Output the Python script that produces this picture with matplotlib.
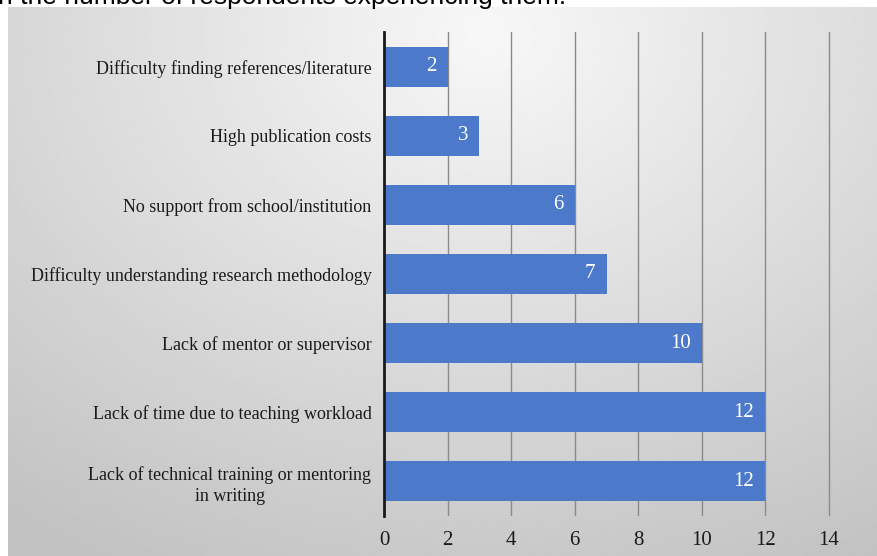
import numpy as np
import matplotlib
matplotlib.use('Agg')
import matplotlib.pyplot as plt

categories = [
    'Difficulty finding references/literature',
    'High publication costs',
    'No support from school/institution',
    'Difficulty understanding research methodology',
    'Lack of mentor or supervisor',
    'Lack of time due to teaching workload',
    'Lack of technical training or mentoring\nin writing',
]
respondents = [2, 3, 6, 7, 10, 12, 12]
x_ticks = [0, 2, 4, 6, 8, 10, 12, 14]
title_tail = 'n the number of respondents experiencing them.'

W, H = 877, 556
fig = plt.figure(figsize=(W / 100, H / 100), dpi=100)
fig.patch.set_facecolor('white')

# gray slide panel with soft radial gradient
bg = fig.add_axes([8 / W, 0, 1 - 8 / W, 1 - 7 / H])
yy, xx = np.mgrid[0:1:300j, 0:1:500j]
r = np.sqrt(((xx - 0.55) / 0.9) ** 2 + ((yy - 0.05) / 1.1) ** 2)
shade = np.clip(0.97 - 0.21 * r, 0.76, 0.97)
bg.imshow(shade, cmap='gray', vmin=0, vmax=1, aspect='auto',
          extent=(0, 1, 1, 0), interpolation='bilinear')
bg.axis('off')

# slide title, cut off at the top edge as in the screenshot
fig.text(-2 / W, 1 - 4 / H, title_tail, fontsize=19, family='Liberation Sans',
         color='black', ha='left', va='baseline')

xmax = 14.05
ax = fig.add_axes([384 / W, 1 - 516 / H, (829 - 384) / W * xmax / 14, (516 - 32) / H])
ax.patch.set_alpha(0)

y = np.arange(len(categories))
ax.barh(y, respondents, height=0.58, color='#4c79c9', zorder=3)

for yi, v in zip(y, respondents):
    ax.annotate(str(v), xy=(v, yi), xytext=(-8, 0), textcoords='offset points',
                ha='right', va='center', color='white', fontsize=15,
                family='Liberation Serif', zorder=4)

ax.set_xlim(0, xmax)
ax.set_ylim(len(categories) - 0.5, -0.5)
ax.set_yticks(y)
ax.set_yticklabels(categories, family='Liberation Serif', fontsize=13,
                   color='#1a1a1a', multialignment='center', linespacing=1.3)
ax.set_xticks(x_ticks)
ax.set_xticklabels([str(t) for t in x_ticks], family='Liberation Serif',
                   fontsize=15, color='#1a1a1a')
ax.tick_params(axis='both', length=0)
ax.tick_params(axis='y', pad=9)
ax.tick_params(axis='x', pad=11)

ax.grid(axis='x', color='#8a8a8a', linewidth=1, zorder=1)
for side in ['top', 'right', 'bottom']:
    ax.spines[side].set_visible(False)
ax.spines['left'].set_color('#1a1a1a')
ax.spines['left'].set_linewidth(2)
ax.spines['left'].set_zorder(5)

fig.savefig('out.png', dpi=100)
